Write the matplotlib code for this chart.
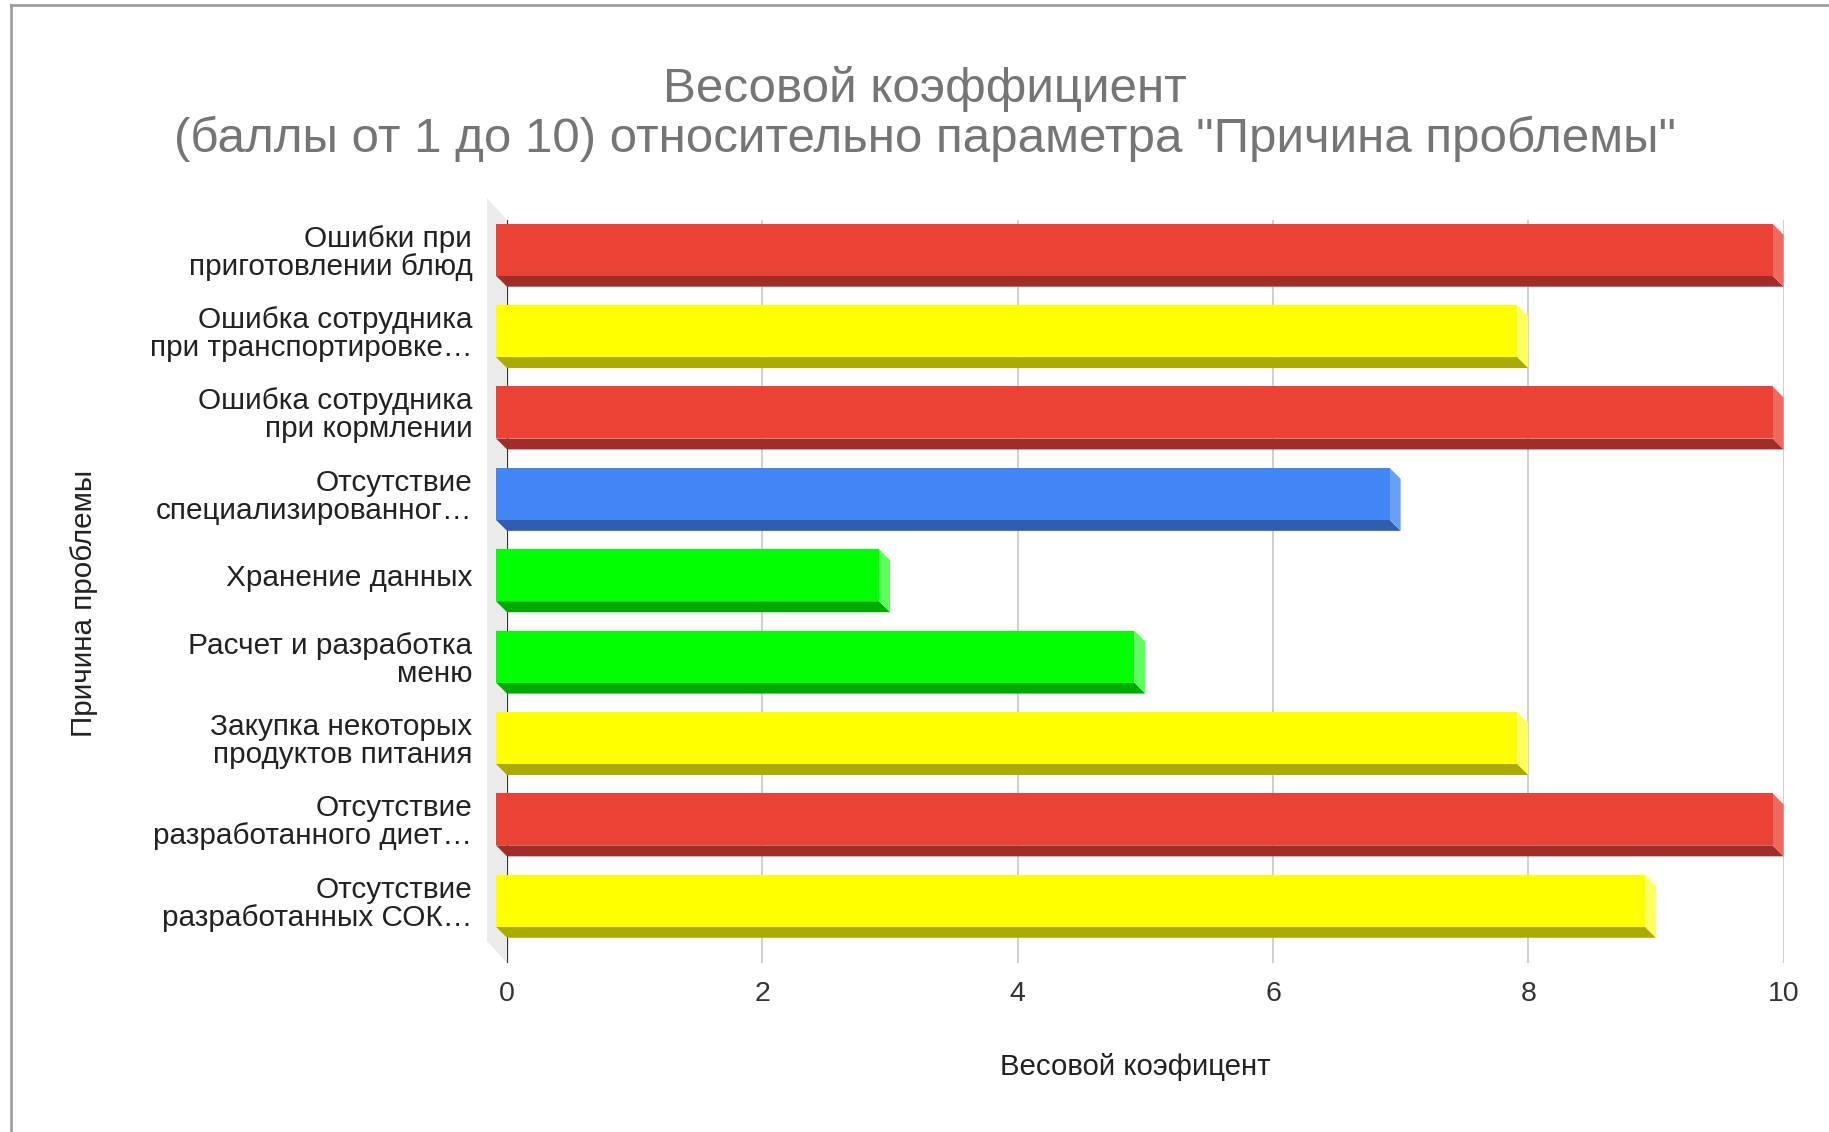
import numpy as np
import matplotlib.pyplot as plt
from matplotlib.patches import Polygon
from matplotlib.lines import Line2D

plt.rcParams['font.family'] = ['Liberation Sans', 'DejaVu Sans']

# данные
categories = ['Ошибки при\nприготовлении блюд',
              'Ошибка сотрудника\nпри транспортировке…',
              'Ошибка сотрудника\nпри кормлении',
              'Отсутствие\nспециализированног…',
              'Хранение данных',
              'Расчет и разработка\nменю',
              'Закупка некоторых\nпродуктов питания',
              'Отсутствие\nразработанного диет…',
              'Отсутствие\nразработанных СОК…']
values = [10, 8, 10, 7, 3, 5, 8, 10, 9]
bar_colors = ['red', 'yellow', 'red', 'blue', 'green', 'green', 'yellow', 'red', 'yellow']
x_ticks = [0, 2, 4, 6, 8, 10]

# цвета граней: лицевая, нижняя, правая
palette = {
    'red':    ('#EA4335', '#9E2E27', '#EE6A60'),
    'yellow': ('#FFFF00', '#AAAA00', '#FFFF66'),
    'blue':   ('#4285F4', '#2F5EAE', '#6B9EF6'),
    'green':  ('#00FF00', '#00AA00', '#5CFF5C'),
}

W, H = 1829, 1132
fig = plt.figure(figsize=(W / 100, H / 100), dpi=100)

ax_l, ax_r, ax_t, ax_b = 507, 1783.6, 220, 963   # пиксели
ax = fig.add_axes([ax_l / W, 1 - ax_b / H, (ax_r - ax_l) / W, (ax_b - ax_t) / H])
ymin, ymax = -0.5, 8.63
ax.set_xlim(0, 10)
ax.set_ylim(ymax, ymin)

# сдвиг 3D в пикселях -> в единицах данных
px_x = (ax_r - ax_l) / 10
px_y = (ax_b - ax_t) / (ymax - ymin)
dx, dy = 11 / px_x, 11 / px_y
wx, wy = 20 / px_x, 22 / px_y
h = 52 / px_y

ypos = np.arange(len(categories))

# левая стенка
wall = Polygon([(-wx, ymin - wy), (0, ymin), (0, ymax), (-wx, ymax - wy)],
               closed=True, facecolor='#ebebeb', edgecolor='none', zorder=0, clip_on=False)
ax.add_patch(wall)

# сетка
for t in x_ticks:
    ax.axvline(t, color='#333333' if t == 0 else '#cccccc', lw=1.6 if t == 0 else 1.3, zorder=1)

# столбцы
fronts = [palette[c][0] for c in bar_colors]
bars = ax.barh(ypos - dy, values, height=h, left=-dx, color=fronts, zorder=3)
for b in bars:
    b.set_clip_on(False)
for i, (v, c) in enumerate(zip(values, bar_colors)):
    top, bot = i - h / 2, i + h / 2
    bottom_face = Polygon([(-dx, bot - dy), (v - dx, bot - dy), (v, bot), (0, bot)],
                          closed=True, facecolor=palette[c][1], edgecolor='none', zorder=2, clip_on=False)
    right_face = Polygon([(v - dx, top - dy), (v, top), (v, bot), (v - dx, bot - dy)],
                         closed=True, facecolor=palette[c][2], edgecolor='none', zorder=2, clip_on=False)
    ax.add_patch(bottom_face)
    ax.add_patch(right_face)

ax.set_xticks(x_ticks)
ax.set_xticklabels([str(t) for t in x_ticks], fontsize=20.5, color='#333333')
ax.set_yticks(ypos - dy)
ax.set_yticklabels(categories, fontsize=21.4, color='#222222', linespacing=1.0)
ax.tick_params(axis='x', length=0, pad=13)
ax.tick_params(axis='y', length=0, pad=25)
for s in ax.spines.values():
    s.set_visible(False)

# подписи
fig.text(925 / W, 1 - 114 / H, 'Весовой коэффициент\n(баллы от 1 до 10) относительно параметра "Причина проблемы"',
         ha='center', va='center', fontsize=35.5, color='#757575', linespacing=1.12)
fig.text(1135 / W, 1 - 1067 / H, 'Весовой коэфицент', ha='center', va='center', fontsize=21.2, color='#222222')
fig.text(84 / W, 1 - 603 / H, 'Причина проблемы', ha='center', va='center', rotation=90,
         fontsize=21.3, color='#222222')

# рамка
fig.add_artist(Line2D([11 / W, 11 / W], [0, 1 - 5 / H], color='#9e9e9e', lw=2))
fig.add_artist(Line2D([11 / W, 1], [1 - 5 / H, 1 - 5 / H], color='#9e9e9e', lw=2))

fig.savefig('out.png', dpi=100)
